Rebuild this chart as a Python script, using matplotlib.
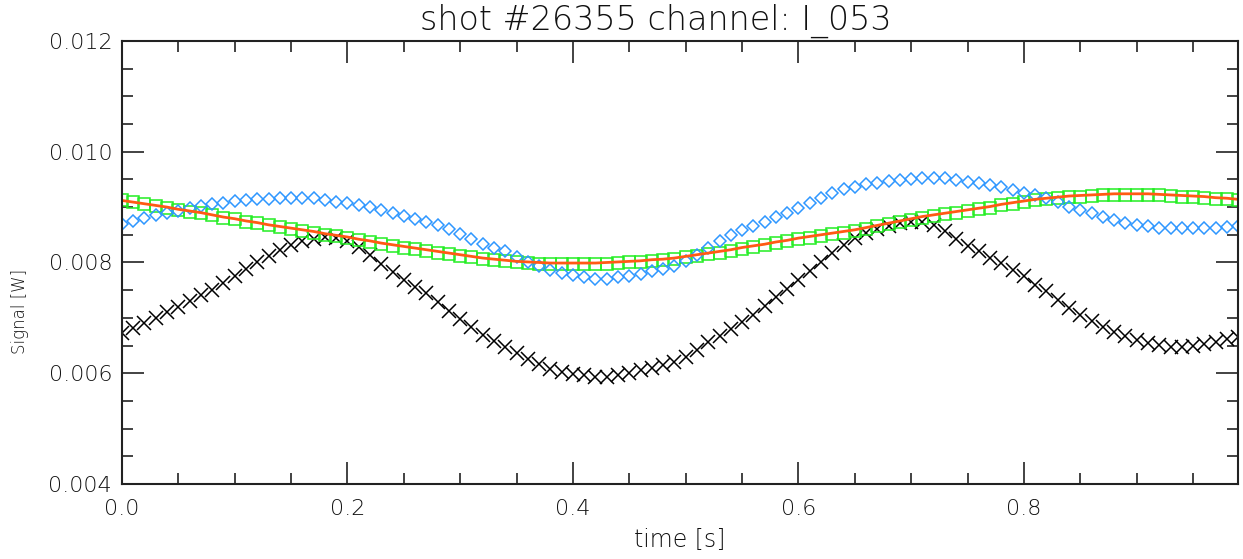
import numpy as np
import matplotlib.pyplot as plt
from matplotlib.ticker import MultipleLocator

plt.rcParams["font.family"] = ["DejaVu Sans"]
plt.rcParams["font.weight"] = "light"
plt.rcParams["axes.titleweight"] = "light"
plt.rcParams["axes.labelweight"] = "light"

TITLE = "shot #26355 channel: I_053"
time = np.arange(100) * 0.01   # 100 samples, 10 ms apart

# black crosses
signal_x = [
    0.00673, 0.00682, 0.00691, 0.00700, 0.00710, 0.00720, 0.00730, 0.00741, 0.00751, 0.00763,
    0.00775, 0.00788, 0.00801, 0.00812, 0.00822, 0.00831, 0.00838, 0.00843, 0.00846, 0.00845,
    0.00838, 0.00828, 0.00813, 0.00797, 0.00782, 0.00769, 0.00756, 0.00744, 0.00729, 0.00713,
    0.00698, 0.00683, 0.00669, 0.00658, 0.00647, 0.00636, 0.00626, 0.00616, 0.00608, 0.00602,
    0.00598, 0.00596, 0.00594, 0.00594, 0.00597, 0.00601, 0.00605, 0.00609, 0.00614, 0.00620,
    0.00630, 0.00642, 0.00656, 0.00668, 0.00679, 0.00692, 0.00706, 0.00721, 0.00737, 0.00753,
    0.00769, 0.00785, 0.00801, 0.00817, 0.00832, 0.00844, 0.00853, 0.00860, 0.00866, 0.00871,
    0.00874, 0.00873, 0.00867, 0.00856, 0.00843, 0.00830, 0.00820, 0.00808, 0.00799, 0.00787,
    0.00775, 0.00760, 0.00748, 0.00733, 0.00718, 0.00706, 0.00694, 0.00684, 0.00675, 0.00667,
    0.00660, 0.00655, 0.00651, 0.00648, 0.00648, 0.00650, 0.00653, 0.00657, 0.00661, 0.00665,
]

# blue diamonds
signal_d = [
    0.00870, 0.00875, 0.00880, 0.00885, 0.00889, 0.00893, 0.00898, 0.00902, 0.00905, 0.00908,
    0.00911, 0.00913, 0.00914, 0.00915, 0.00916, 0.00917, 0.00917, 0.00916, 0.00913, 0.00910,
    0.00907, 0.00904, 0.00900, 0.00895, 0.00889, 0.00884, 0.00879, 0.00874, 0.00867, 0.00860,
    0.00851, 0.00842, 0.00834, 0.00827, 0.00820, 0.00810, 0.00801, 0.00794, 0.00787, 0.00781,
    0.00777, 0.00773, 0.00771, 0.00771, 0.00773, 0.00776, 0.00780, 0.00784, 0.00789, 0.00794,
    0.00803, 0.00814, 0.00826, 0.00838, 0.00849, 0.00858, 0.00866, 0.00874, 0.00882, 0.00889,
    0.00898, 0.00907, 0.00916, 0.00925, 0.00932, 0.00937, 0.00941, 0.00944, 0.00947, 0.00949,
    0.00951, 0.00952, 0.00952, 0.00952, 0.00949, 0.00946, 0.00943, 0.00940, 0.00936, 0.00931,
    0.00926, 0.00921, 0.00917, 0.00909, 0.00901, 0.00895, 0.00889, 0.00882, 0.00876, 0.00872,
    0.00868, 0.00865, 0.00862, 0.00862, 0.00862, 0.00862, 0.00862, 0.00863, 0.00864, 0.00865,
]

# green squares
signal_s = [
    0.00912, 0.00909, 0.00906, 0.00902, 0.00899, 0.00895, 0.00892, 0.00889, 0.00885, 0.00881,
    0.00878, 0.00874, 0.00871, 0.00867, 0.00864, 0.00860, 0.00857, 0.00854, 0.00850, 0.00847,
    0.00844, 0.00840, 0.00837, 0.00833, 0.00830, 0.00827, 0.00824, 0.00821, 0.00818, 0.00815,
    0.00812, 0.00809, 0.00806, 0.00804, 0.00802, 0.00800, 0.00799, 0.00798, 0.00797, 0.00797,
    0.00797, 0.00797, 0.00797, 0.00798, 0.00799, 0.00800, 0.00801, 0.00803, 0.00804, 0.00806,
    0.00809, 0.00812, 0.00815, 0.00818, 0.00821, 0.00825, 0.00828, 0.00831, 0.00835, 0.00838,
    0.00842, 0.00845, 0.00848, 0.00851, 0.00854, 0.00857, 0.00861, 0.00865, 0.00869, 0.00873,
    0.00877, 0.00881, 0.00884, 0.00887, 0.00890, 0.00893, 0.00896, 0.00899, 0.00903, 0.00906,
    0.00909, 0.00912, 0.00914, 0.00916, 0.00918, 0.00919, 0.00920, 0.00921, 0.00922, 0.00922,
    0.00922, 0.00922, 0.00921, 0.00920, 0.00919, 0.00918, 0.00917, 0.00915, 0.00914, 0.00912,
]

# orange fit line
signal_fit = [
    0.00912, 0.00909, 0.00906, 0.00903, 0.00900, 0.00896, 0.00893, 0.00890, 0.00886, 0.00882,
    0.00879, 0.00875, 0.00872, 0.00868, 0.00865, 0.00862, 0.00859, 0.00856, 0.00852, 0.00849,
    0.00846, 0.00842, 0.00839, 0.00835, 0.00832, 0.00829, 0.00826, 0.00823, 0.00820, 0.00817,
    0.00814, 0.00811, 0.00808, 0.00806, 0.00804, 0.00802, 0.00801, 0.00800, 0.00799, 0.00799,
    0.00799, 0.00799, 0.00799, 0.00800, 0.00801, 0.00802, 0.00803, 0.00805, 0.00806, 0.00808,
    0.00811, 0.00814, 0.00817, 0.00820, 0.00823, 0.00827, 0.00830, 0.00833, 0.00837, 0.00840,
    0.00844, 0.00847, 0.00850, 0.00853, 0.00856, 0.00859, 0.00863, 0.00867, 0.00871, 0.00875,
    0.00879, 0.00883, 0.00886, 0.00889, 0.00892, 0.00895, 0.00898, 0.00901, 0.00905, 0.00908,
    0.00911, 0.00914, 0.00916, 0.00918, 0.00920, 0.00921, 0.00922, 0.00923, 0.00924, 0.00924,
    0.00924, 0.00924, 0.00923, 0.00922, 0.00921, 0.00920, 0.00919, 0.00917, 0.00916, 0.00914,
]

fig = plt.figure(figsize=(12.43, 5.59), dpi=100)
ax = fig.add_axes([0.0981, 0.1342, 0.898, 0.7925])

ax.plot(time, signal_x, ls="none", marker="x", ms=10.5, mew=1.1, color="black")
ax.plot(time, signal_s, ls="none", marker="s", ms=8.5, mew=1.1, mfc="none", mec="#22ee22")
ax.plot(time, signal_d, ls="none", marker="D", ms=6.5, mew=1.1, mfc="none", mec="#2e97ff")
ax.plot(time, signal_fit, color="#ff5a14", lw=2)

ax.set_xlim(0, 0.99)
ax.set_ylim(0.004, 0.012)
ax.xaxis.set_major_locator(MultipleLocator(0.2))
ax.xaxis.set_minor_locator(MultipleLocator(0.05))
ax.yaxis.set_major_locator(MultipleLocator(0.002))
ax.yaxis.set_minor_locator(MultipleLocator(0.0005))
ax.xaxis.set_major_formatter(plt.FormatStrFormatter("%.1f"))
ax.yaxis.set_major_formatter(plt.FormatStrFormatter("%.3f"))
ax.tick_params(which="both", direction="in", top=True, right=True,
               color="#222222", width=1.2)
ax.tick_params(which="major", length=16, labelsize=16, labelcolor="#111111")
ax.tick_params(axis="y", which="major", pad=7)
ax.tick_params(axis="x", which="major", pad=11)
ax.tick_params(which="minor", length=8)
for sp in ax.spines.values():
    sp.set_color("#222222")
    sp.set_linewidth(1.5)

# title is centred a bit left of the axis middle, as in the original
ax.set_title(TITLE, fontsize=24, color="#111111", pad=8, x=0.4785)
ax.set_xlabel("time [s]", fontsize=17, color="#111111", labelpad=6)
ax.set_ylabel("Signal [W]", fontsize=12, color="#111111")
ax.yaxis.set_label_coords(-0.083, 0.39)

fig.savefig("out.png", dpi=100)
